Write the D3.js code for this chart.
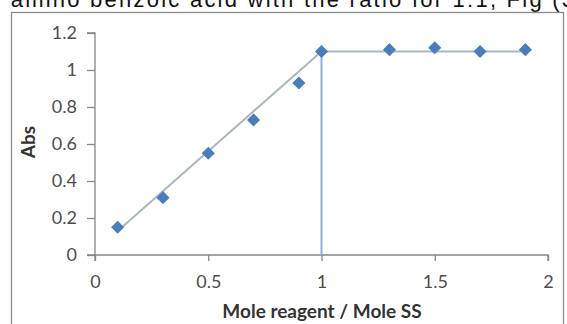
<!DOCTYPE html>
<html>
<head>
<meta charset="utf-8">
<script src="https://cdn.jsdelivr.net/npm/d3@7"></script>
<style>
  body { margin: 0; background: #fff; }
  svg { display: block; }
</style>
</head>
<body>
<script>
// data
var ratio = [0.1, 0.3, 0.5, 0.7, 0.9, 1.0, 1.3, 1.5, 1.7, 1.9]
var abs   = [0.15, 0.31, 0.55, 0.73, 0.93, 1.10, 1.11, 1.12, 1.10, 1.11]

// drawn construction lines (x, y)
var riseX = [0.1, 1.0], riseY = [0.13, 1.1]
var flatX = [1.0, 1.9], flatY = [1.1, 1.1]
var dropX = [1.0, 1.0], dropY = [0, 1.1]

var xTicks = [0, 0.5, 1, 1.5, 2]
var yTicks = [0, 0.2, 0.4, 0.6, 0.8, 1, 1.2]

var width = 567,
    height = 324;

var svg = d3.select("body").append("svg")
    .attr("width", width)
    .attr("height", height);

// clipped line of document text above the figure
svg.append("text")
    .attr("x", -6)
    .attr("y", 7)
    .attr("textLength", 580)
    .attr("font-family", "Liberation Sans, sans-serif")
    .attr("font-size", 22)
    .attr("fill", "#111")
    .text("f amino benzoic acid with the ratio for 1:1, Fig (3")

// figure frame
svg.append("rect")
    .attr("x", 11.5)
    .attr("y", 12.5)
    .attr("width", 552)
    .attr("height", 330)
    .attr("fill", "#fff")
    .attr("stroke", "#8c8c8c")
    .attr("stroke-width", 1.3)

var x = d3.scaleLinear().domain([0, 2]).range([95, 548])
var y = d3.scaleLinear().domain([0, 1.2]).range([255, 33])

var axisColor = "#878787", labelColor = "#4d4d4d"
var font = "Lato, Open Sans, sans-serif"

var gx = svg.append("g")
    .attr("transform", "translate(0," + y(0) + ")")
    .call(d3.axisBottom(x).tickValues(xTicks).tickSize(6).tickPadding(14)
      .tickFormat(function(d) { return d3.format("")(d) }))
var gy = svg.append("g")
    .attr("transform", "translate(" + x(0) + ",0)")
    .call(d3.axisLeft(y).tickValues(yTicks).tickSize(8).tickPadding(10)
      .tickFormat(function(d) { return d3.format("")(d) }))

;[gx, gy].forEach(function(g) {
  g.select(".domain").attr("stroke", axisColor).attr("stroke-width", 1.3)
  g.selectAll(".tick line").attr("stroke", axisColor).attr("stroke-width", 1.3)
  g.selectAll(".tick text")
    .attr("fill", labelColor)
    .attr("font-family", font)
    .attr("font-size", 18)
})
gx.select(".domain").attr("d", "M" + (x(0) - 8) + ",0H" + x(2) + "V6")
gy.select(".domain").attr("d", "M-8," + y(1.2) + "H0V" + (y(0) + 6))

// construction lines
var line = d3.line()
    .x(function(d) { return x(d[0]) })
    .y(function(d) { return y(d[1]) })

;[[riseX, riseY, "#abb6c2"], [flatX, flatY, "#abb6c2"], [dropX, dropY, "#8fb1d3"]]
  .forEach(function(s) {
    svg.append("path")
      .attr("d", line(d3.zip(s[0], s[1])))
      .attr("fill", "none")
      .attr("stroke", s[2])
      .attr("stroke-width", 2)
  })

// markers
var diamond = d3.symbol().type(d3.symbolDiamond2).size(110)
svg.selectAll("path.pt")
    .data(d3.zip(ratio, abs))
  .enter()
    .append("path")
    .classed("pt", true)
    .attr("d", diamond)
    .attr("transform", function(d) {
      return "translate(" + x(d[0]) + "," + y(d[1]) + ")"
    })
    .attr("fill", "#4a7ebb")

// axis titles
svg.append("text")
    .attr("x", 322)
    .attr("y", 318)
    .attr("text-anchor", "middle")
    .attr("font-family", font)
    .attr("font-weight", "bold")
    .attr("font-size", 19)
    .attr("fill", "#333")
    .text("Mole reagent / Mole SS")

svg.append("text")
    .attr("transform", "translate(35,142) rotate(-90)")
    .attr("text-anchor", "middle")
    .attr("font-family", font)
    .attr("font-weight", "bold")
    .attr("font-size", 19)
    .attr("fill", "#333")
    .text("Abs")
</script>
</body>
</html>
